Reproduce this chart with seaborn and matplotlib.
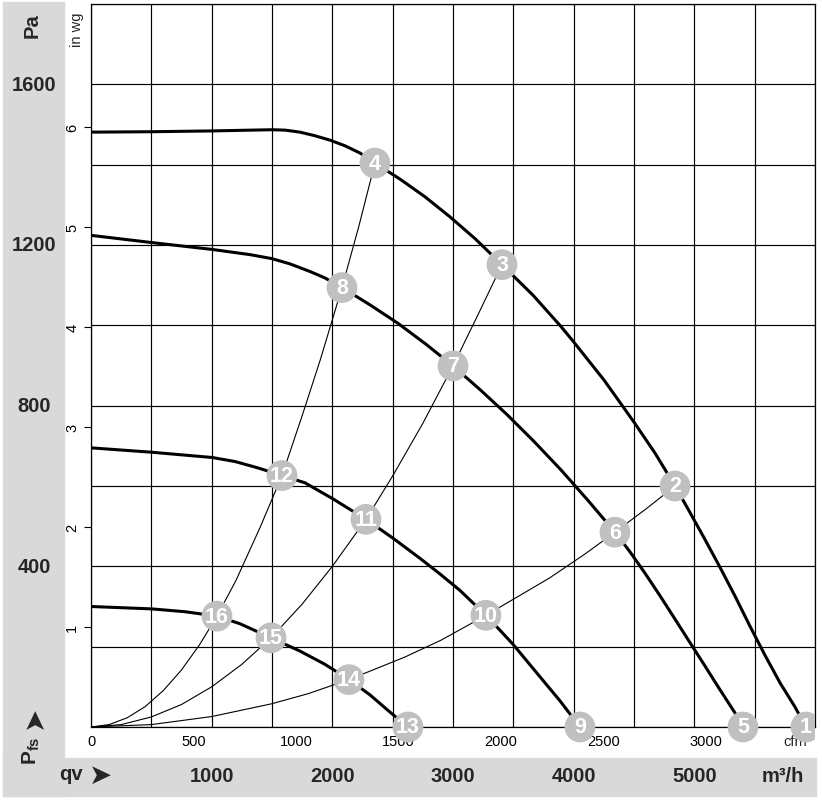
import numpy as np
import pandas as pd
import matplotlib
matplotlib.use("Agg")
import matplotlib.pyplot as plt
import seaborn as sns
from matplotlib.transforms import blended_transform_factory, Bbox, TransformedBbox
from matplotlib.patches import Rectangle

# ---------------- data ----------------
# fan curves: airflow qv [m3/h], static pressure pfs [Pa]
fan_a_q = [0, 500, 1000, 1500, 1608, 1732, 1856, 1981, 2105, 2229, 2353, 2561, 2768, 2975,
           3182, 3406, 3663, 3895, 3994, 4251, 4500, 4674, 4840, 4964, 5088, 5212, 5337,
           5461, 5585, 5710, 5834, 5925]
fan_a_p = [1481, 1482, 1484, 1487, 1486, 1481, 1472, 1461, 1447, 1429, 1404, 1364, 1320, 1270,
           1216, 1151, 1075, 997, 961, 864, 759, 682, 600, 534, 467, 398, 326,
           251, 179, 110, 50, 0]

fan_b_q = [0, 505, 1003, 1318, 1500, 1649, 1815, 1939, 2080, 2312, 2544, 2776, 3000, 3224,
           3447, 3671, 3895, 4119, 4342, 4467, 4591, 4715, 4839, 4964, 5088, 5212, 5337, 5403]
fan_b_p = [1224, 1206, 1189, 1176, 1166, 1153, 1134, 1118, 1094, 1051, 1005, 953, 899, 840,
           778, 711, 640, 564, 485, 436, 383, 327, 269, 210, 152, 93, 35, 0]

fan_c_q = [0, 506, 1003, 1193, 1384, 1583, 1773, 2005, 2279, 2503, 2726, 2892, 3058, 3273,
           3389, 3497, 3696, 3887, 4052]
fan_c_p = [695, 684, 671, 661, 645, 626, 608, 568, 517, 470, 420, 381, 340, 278,
           241, 206, 134, 65, 0]

fan_d_q = [0, 506, 779, 1044, 1235, 1492, 1732, 1939, 2138, 2312, 2478, 2627]
fan_d_p = [300, 294, 287, 276, 257, 222, 189, 156, 118, 80, 37, 0]

# system (operating-point) curves
sys1_q = [0, 150, 300, 450, 600, 750, 900, 1044, 1200, 1400, 1583, 1750, 1900, 2080, 2220, 2353]
sys1_p = [0, 6, 23, 51, 91, 142, 205, 276, 364, 496, 626, 775, 914, 1094, 1247, 1404]
sys2_q = [0, 250, 500, 750, 1000, 1250, 1492, 1750, 2000, 2279, 2500, 2750, 3000, 3200, 3406]
sys2_p = [0, 6, 25, 56, 100, 156, 222, 306, 400, 517, 625, 756, 899, 1022, 1151]
sys3_q = [0, 500, 1000, 1500, 1800, 2138, 2600, 2900, 3273, 3800, 4100, 4342, 4600, 4840]
sys3_p = [0, 6, 26, 58, 83, 118, 174, 216, 278, 371, 432, 485, 543, 600]

# numbered operating points
point_labels = ["1", "2", "3", "4", "5", "6", "7", "8", "9", "10", "11", "12", "13", "14", "15", "16"]
point_q = [5925, 4840, 3406, 2353, 5403, 4342, 3000, 2080, 4052, 3273, 2279, 1583, 2627, 2138, 1492, 1044]
point_p = [0, 600, 1151, 1404, 0, 485, 899, 1094, 0, 278, 517, 626, 0, 118, 222, 276]

# axis labels
pa_labels = [400, 800, 1200, 1600]
inwg_ticks = [1, 2, 3, 4, 5, 6]
cfm_ticks = [0, 500, 1000, 1500, 2000, 2500, 3000]
m3h_labels = [1000, 2000, 3000, 4000, 5000]

PA_PER_INWG = 249.089
M3H_PER_CFM = 1.69901

# ---------------- styling ----------------
sns.set_theme(style="white")
plt.rcParams['font.family'] = ['Liberation Sans', 'DejaVu Sans']
plt.rcParams['mathtext.fontset'] = 'custom'
plt.rcParams['mathtext.rm'] = 'Liberation Sans'
plt.rcParams['mathtext.bf'] = 'Liberation Sans:bold'

W, H = 822, 804
fig = plt.figure(figsize=(W / 100, H / 100), dpi=100)
fig.patch.set_facecolor('white')


def fx(px):
    return px / W


def fy(py):
    return 1 - py / H


band = '#d9d9d9'
fig.patches.append(Rectangle((fx(3), fy(797)), fx(64) - fx(3), fy(3) - fy(797),
                             transform=fig.transFigure, color=band, zorder=-5))
fig.patches.append(Rectangle((fx(3), fy(797)), fx(816) - fx(3), fy(759) - fy(797),
                             transform=fig.transFigure, color=band, zorder=-5))

ax = fig.add_axes([fx(91), fy(728), fx(815) - fx(91), fy(5) - fy(728)])
ax.set_facecolor('white')
ax.set_xlim(0, 6000)
ax.set_ylim(0, 1800)
ax.set_xticks(np.arange(0, 6001, 500))
ax.set_yticks(np.arange(0, 1801, 200))
ax.grid(True, color='black', linewidth=0.85, zorder=1)
ax.set_axisbelow(True)
ax.tick_params(length=0, labelbottom=False, labelleft=False, bottom=False, left=False)
for s in ax.spines.values():
    s.set_color('black')
    s.set_linewidth(0.9)

# ---------------- curves ----------------
fan_df = pd.concat([
    pd.DataFrame({'q': fan_a_q, 'p': fan_a_p, 'curve': 'A'}),
    pd.DataFrame({'q': fan_b_q, 'p': fan_b_p, 'curve': 'B'}),
    pd.DataFrame({'q': fan_c_q, 'p': fan_c_p, 'curve': 'C'}),
    pd.DataFrame({'q': fan_d_q, 'p': fan_d_p, 'curve': 'D'}),
], ignore_index=True)
sys_df = pd.concat([
    pd.DataFrame({'q': sys1_q, 'p': sys1_p, 'curve': 'S1'}),
    pd.DataFrame({'q': sys2_q, 'p': sys2_p, 'curve': 'S2'}),
    pd.DataFrame({'q': sys3_q, 'p': sys3_p, 'curve': 'S3'}),
], ignore_index=True)

sns.lineplot(data=sys_df, x='q', y='p', units='curve', estimator=None, sort=False,
             color='black', linewidth=0.8, ax=ax, zorder=2)
sns.lineplot(data=fan_df, x='q', y='p', units='curve', estimator=None, sort=False,
             color='black', linewidth=2.2, ax=ax, zorder=3)
for ln in ax.lines:
    ln.set_solid_joinstyle('round')

clipbox = TransformedBbox(Bbox([[0, -0.1], [1, 1]]), ax.transAxes)

pts_df = pd.DataFrame({'q': point_q, 'p': point_p, 'label': point_labels})
sns.scatterplot(data=pts_df, x='q', y='p', s=490, color='#c0c0c0', edgecolor='none',
                ax=ax, zorder=5, legend=False)
sc = ax.collections[-1]
sc.set_clip_path(None)
sc.set_clip_box(clipbox)
for q, p, lab in zip(point_q, point_p, point_labels):
    t = ax.text(q, p, lab, ha='center', va='center', color='white', fontsize=15.5,
                fontweight='bold', zorder=6)
    t.set_clip_path(None)
    t.set_clip_box(clipbox)
    t.set_clip_on(True)

ax.set_xlabel('')
ax.set_ylabel('')

# ---------------- left labels (Pa / in wg) ----------------
trans_fy = blended_transform_factory(fig.transFigure, ax.transData)
for v in pa_labels:
    ax.text(fx(34), v, str(v), transform=trans_fy, ha='center', va='center',
            fontsize=14.5, fontweight='bold', clip_on=False)
fig.text(fx(32), fy(26), 'Pa', rotation=90, ha='center', va='center',
         fontsize=14.5, fontweight='bold')
fig.text(fx(77), fy(30), 'in wg', rotation=90, ha='center', va='center', fontsize=10.5)

secy = ax.secondary_yaxis('left', functions=(lambda p: p / PA_PER_INWG,
                                             lambda w: w * PA_PER_INWG))
secy.set_yticks(inwg_ticks)
secy.set_yticklabels([str(v) for v in inwg_ticks], rotation=90, va='center')
secy.tick_params(axis='y', left=True, length=5, width=0.8, color='black',
                 labelsize=10.5, pad=3.5, labelcolor='black')
secy.spines['left'].set_visible(False)

# ---------------- bottom labels (cfm / m3/h) ----------------
secx = ax.secondary_xaxis('bottom', functions=(lambda q: q / M3H_PER_CFM,
                                               lambda c: c * M3H_PER_CFM))
secx.set_xticks(cfm_ticks)
secx.set_xticklabels([str(v) for v in cfm_ticks])
secx.tick_params(axis='x', bottom=True, length=0, labelsize=10.5, pad=5, labelcolor='black')
secx.spines['bottom'].set_visible(False)

trans_xa = ax.get_xaxis_transform()
ax.text(5834, (728 - 742) / 723, 'cfm', transform=trans_xa, ha='center', va='center',
        fontsize=10.5, clip_on=False)
for v in m3h_labels:
    ax.text(v, (728 - 777) / 723, str(v), transform=trans_xa, ha='center', va='center',
            fontsize=14.5, fontweight='bold', clip_on=False)
fig.text(fx(783), fy(777), 'm³/h', ha='center', va='center', fontsize=14.5, fontweight='bold')

fig.text(fx(71), fy(775), 'qv', ha='center', va='center', fontsize=14.5, fontweight='bold')
fig.text(fx(101), fy(776), '➤', ha='center', va='center', fontsize=20,
         family=['DejaVu Sans'])
fig.text(fx(31), fy(751), r'$\mathbf{P}_{\mathbf{fs}}$', rotation=90, ha='center', va='center',
         fontsize=15)
fig.text(fx(34), fy(717), '➤', rotation=90, ha='center', va='center', fontsize=20,
         family=['DejaVu Sans'])

fig.savefig('out.png', dpi=100, facecolor='white')
